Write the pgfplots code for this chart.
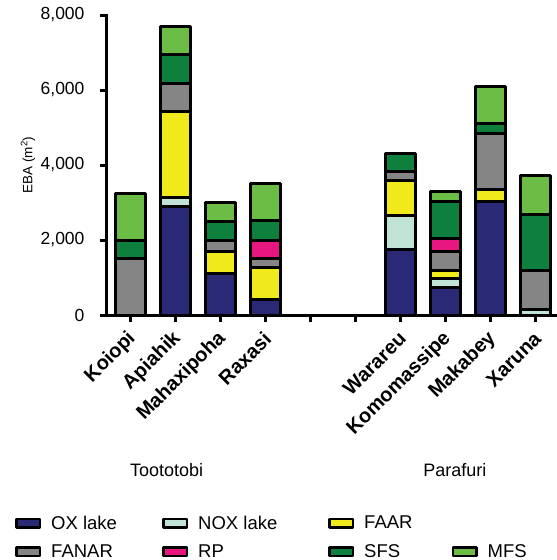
\documentclass[border=0pt]{standalone}
\usepackage{pgfplots}
\pgfplotsset{compat=1.18}
\usepackage{pgfplotstable}
\usepackage{fontspec}
\setmainfont{Liberation Sans}
\definecolor{cOX}{RGB}{41,41,118}
\definecolor{cNOX}{RGB}{192,227,214}
\definecolor{cFAAR}{RGB}{240,234,28}
\definecolor{cFANAR}{RGB}{133,133,133}
\definecolor{cRP}{RGB}{232,22,127}
\definecolor{cSFS}{RGB}{14,127,60}
\definecolor{cMFS}{RGB}{108,189,69}
\newcommand\fs{\fontsize{17.5pt}{21pt}\selectfont}
\pgfplotstableread{
x OX NOX FAAR FANAR RP SFS MFS
0 0 0 0 1500 0 490 1255
1 2905 235 2285 755 0 755 755
2 1095 0 595 290 0 525 490
3 420 0 860 230 480 525 995
6 1750 910 930 240 0 470 0
7 740 240 220 505 340 995 250
8 3040 0 295 1510 0 265 995
9 0 140 0 1050 0 1500 1025
}\data
\pgfplotsset{swatch/.style={legend image code/.code={\draw[#1, line width=2.5pt] (0pt,-4.25pt) rectangle (23.5pt,4.25pt);}}}
\begin{document}
\begin{tikzpicture}
\begin{axis}[
  scale only axis, width=450pt, height=300pt,
  ybar stacked, bar width=30pt,
  xmin=-0.533, xmax=9.467, ymin=0, ymax=8000,
  enlargelimits=false, clip=false,
  axis x line*=bottom, axis y line*=left,
  axis line style={line width=3pt, line cap=rect},
  xtick={0,...,9},
  xticklabels={Koiopi,Apiahik,Mahaxipoha,Raxasi,,,Warareu,Komomassipe,Makabey,Xaruna},
  ytick={0,2000,4000,6000,8000},
  scaled y ticks=false,
  /pgf/number format/assume math mode=true,
  /pgf/number format/1000 sep={,},
  tick align=outside, major tick length=7pt,
  tick style={line width=3pt, black},
  yticklabel style={font=\fs, xshift=-12pt},
  xticklabel style={font=\bfseries\fontsize{20pt}{23pt}\selectfont, xshift=4pt, yshift=-11pt, rotate=45, anchor=east},
  ylabel={EBA (m\textsuperscript{2})},
  ylabel style={font=\fontsize{13.5pt}{15pt}\selectfont, at={(axis description cs:-0.1756,0.5)}, anchor=center},
  legend columns=4,
  legend cell align=left,
  legend style={draw=none, fill=none, font=\fontsize{18.5pt}{21pt}\selectfont,
    at={(axis description cs:-0.211,-0.655)}, anchor=north west, row sep=10pt,
    /tikz/every odd column/.append style={column sep=8pt},
    /tikz/every even column/.append style={column sep=33pt}},
  every axis plot/.append style={draw=black, line width=3pt, line join=round},
]
\addplot[fill=cOX, swatch] table[x=x, y=OX] {\data}; \addlegendentry{\makebox[76pt][l]{OX lake}}
\addplot[fill=cNOX, swatch] table[x=x, y=NOX] {\data}; \addlegendentry{\makebox[95pt][l]{NOX lake}}
\addplot[fill=cFAAR, swatch] table[x=x, y=FAAR] {\data}; \addlegendentry{\makebox[52.5pt][l]{FAAR}}
\addlegendimage{empty legend}\addlegendentry{}
\addplot[fill=cFANAR, swatch] table[x=x, y=FANAR] {\data}; \addlegendentry{FANAR}
\addplot[fill=cRP, swatch] table[x=x, y=RP] {\data}; \addlegendentry{RP}
\addplot[fill=cSFS, swatch] table[x=x, y=SFS] {\data}; \addlegendentry{SFS}
\addplot[fill=cMFS, swatch] table[x=x, y=MFS] {\data}; \addlegendentry{MFS}
\node[font=\fontsize{18pt}{21pt}\selectfont] at ([yshift=-155pt]axis cs:0.79,0) {Toototobi};
\node[font=\fontsize{18pt}{21pt}\selectfont] at ([yshift=-155pt]axis cs:7.2,0) {Parafuri};
\end{axis}
\pgfresetboundingbox
\useasboundingbox (-107pt,-245pt) rectangle (450pt,315pt);
\end{tikzpicture}
\end{document}
